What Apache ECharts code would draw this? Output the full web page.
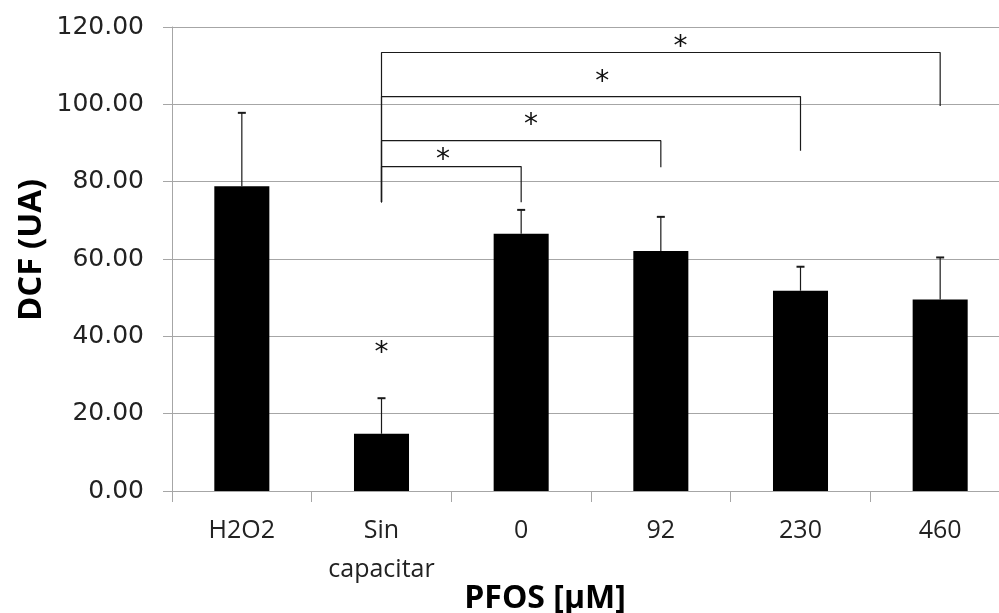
<!DOCTYPE html>
<html><head><meta charset="utf-8">
<script src="https://cdn.jsdelivr.net/npm/echarts@6/dist/echarts.min.js"></script>
<style>html,body{margin:0;padding:0;background:#fff}#c{width:999px;height:613px}</style>
</head><body><div id="c"></div>
<script>
// Data
const categories = ['H2O2', 'Sin\ncapacitar', '0', '92', '230', '460'];
const means = [78.8, 14.8, 66.5, 62.1, 51.8, 49.5];
const errUpper = [97.8, 24.0, 72.7, 70.9, 58.0, 60.4];
const yMin = 0, yMax = 120, yStep = 20;
// Significance brackets (from "Sin capacitar" to each PFOS group)
const bracketFrom = 1;
const bracketLeftFoot = 74.7;
const bracketTo = [2, 3, 4, 5];
const bracketTop = [83.9, 90.6, 102.0, 113.4];
const bracketRightFoot = [74.7, 83.7, 88.0, 99.6];
// Asterisk markers (category position, value)
const starX = [1, 1.44, 2.07, 2.58, 3.14];
const starY = [36.7, 86.7, 95.8, 107.0, 116.0];

const chart = echarts.init(document.getElementById('c'), null, {renderer: 'canvas'});
const gridColor = '#a6a6a6';
const lineColor = '#1a1a1a';

const bracketSeries = bracketTo.map((t, i) => ({
  type: 'line', xAxisIndex: 1, yAxisIndex: 0, silent: true, symbol: 'none',
  lineStyle: {color: lineColor, width: 1.2},
  data: [[bracketFrom, bracketLeftFoot], [bracketFrom, bracketTop[i]], [t, bracketTop[i]], [t, bracketRightFoot[i]]],
  z: 5
}));

chart.setOption({
  animation: false,
  backgroundColor: '#fff',
  grid: {left: 172, width: 838, top: 27, bottom: 122, outerBoundsMode: 'none', containLabel: false},
  xAxis: [{
    type: 'category', data: categories,
    axisLine: {lineStyle: {color: gridColor, width: 1}},
    axisTick: {show: true, interval: 0, length: 11, lineStyle: {color: gridColor}},
    axisLabel: {interval: 0, hideOverlap: false, color: '#222', fontFamily: 'Open Sans', fontSize: 25, margin: 20, lineHeight: 39}
  }, {
    type: 'value', min: -0.5, max: 5.5, show: false
  }],
  yAxis: {
    type: 'value', min: yMin, max: yMax, interval: yStep,
    axisLine: {show: true, onZero: false, lineStyle: {color: gridColor}},
    axisTick: {show: true, length: 9, lineStyle: {color: gridColor}},
    splitLine: {lineStyle: {color: gridColor, width: 1}},
    axisLabel: {color: '#222', fontFamily: 'DejaVu Sans', fontSize: 25, margin: 28,
      formatter: v => v.toFixed(2)}
  },
  graphic: [
    {type: 'text', x: 32, y: 250, rotation: Math.PI / 2,
      style: {text: 'DCF (UA)', font: 'bold 33px "Open Sans"', fill: '#000', textAlign: 'center', textVerticalAlign: 'middle'}},
    {type: 'text', x: 545, y: 599,
      style: {text: 'PFOS [µM]', font: 'bold 32px "Open Sans"', fill: '#000', textAlign: 'center', textVerticalAlign: 'middle'}}
  ],
  series: [{
    type: 'bar', data: means, barWidth: '39.4%',
    itemStyle: {color: '#000'}, z: 2
  }, {
    type: 'custom', z: 4, silent: true,
    data: means.map((m, i) => [i, m, errUpper[i]]),
    renderItem: (params, api) => {
      const x = api.value(0), y0 = api.value(1), y1 = api.value(2);
      const p0 = api.coord([x, y0]), p1 = api.coord([x, y1]);
      return {type: 'group', children: [
        {type: 'line', shape: {x1: p0[0], y1: p0[1], x2: p1[0], y2: p1[1]}, style: {stroke: lineColor, lineWidth: 1.2}},
        {type: 'line', shape: {x1: p1[0] - 4, y1: p1[1], x2: p1[0] + 4, y2: p1[1]}, style: {stroke: lineColor, lineWidth: 2}}
      ]};
    }
  }, ...bracketSeries, {
    type: 'custom', xAxisIndex: 1, yAxisIndex: 0, silent: true, z: 6,
    data: starX.map((x, i) => [x, starY[i]]),
    renderItem: (params, api) => {
      const p = api.coord([api.value(0), api.value(1)]);
      return {type: 'text', x: p[0], y: p[1] + 5,
        style: {text: '*', font: '28px "DejaVu Sans"', fill: '#111', textAlign: 'center', textVerticalAlign: 'middle'}};
    }
  }]
});
</script></body></html>
